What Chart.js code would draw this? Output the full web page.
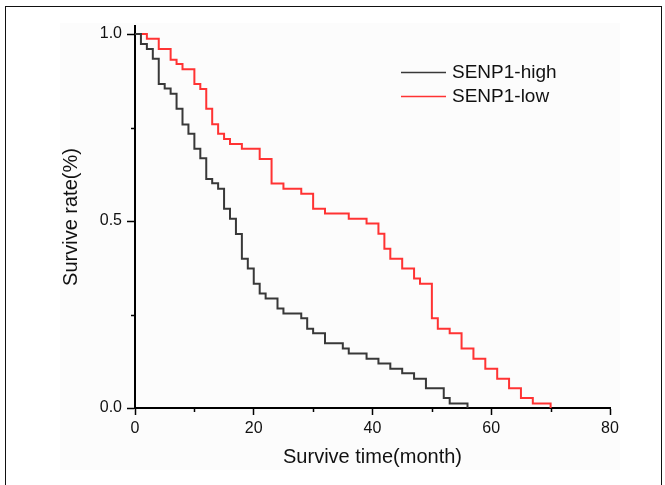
<!DOCTYPE html>
<html>
<head>
<meta charset="utf-8">
<script src="https://cdn.jsdelivr.net/npm/chart.js@4.4.1/dist/chart.umd.min.js"></script>
<style>
  body { margin: 0; background: #fff; }
  #wrap { position: relative; width: 665px; height: 485px; overflow: hidden; }
  #frame {
    position: absolute; left: 5px; top: 6px; width: 655px; height: 600px;
    border: 1.5px solid #111; pointer-events: none;
  }
</style>
</head>
<body>
<div id="wrap">
  <canvas id="kmChart" width="665" height="485"></canvas>
  <div id="frame"></div>
</div>
<script>
// Kaplan-Meier curves (time in months, survival fraction)
const highTime = [0, 1, 2, 3, 4, 5, 6, 7, 8, 9, 10, 11, 12, 13, 14, 15, 16, 17, 18, 19, 20, 21, 22, 24, 25, 28, 29, 30, 32, 35, 36, 39, 41, 43, 45, 47, 49, 52, 53, 56];
const highSurv = [1.0, 0.973, 0.960, 0.934, 0.866, 0.854, 0.840, 0.800, 0.758, 0.733, 0.693, 0.668, 0.612, 0.601, 0.586, 0.533, 0.506, 0.465, 0.399, 0.373, 0.332, 0.306, 0.293, 0.266, 0.253, 0.240, 0.212, 0.200, 0.173, 0.159, 0.146, 0.132, 0.119, 0.105, 0.093, 0.078, 0.053, 0.027, 0.012, 0.0];

const lowTime = [0, 2, 4, 6, 7, 8, 10, 11, 12, 13, 14, 15, 16, 18, 21, 23, 25, 28, 30, 32, 36, 39, 41, 42, 43, 45, 47, 48, 50, 51, 53, 55, 57, 59, 61, 63, 65, 67, 70];
const lowSurv = [1.0, 0.987, 0.960, 0.931, 0.920, 0.906, 0.866, 0.853, 0.800, 0.759, 0.733, 0.719, 0.706, 0.693, 0.666, 0.600, 0.586, 0.573, 0.533, 0.520, 0.506, 0.493, 0.466, 0.426, 0.399, 0.373, 0.346, 0.332, 0.240, 0.212, 0.200, 0.159, 0.132, 0.105, 0.078, 0.053, 0.027, 0.012, 0.0];

const seriesNames = ["SENP1-high", "SENP1-low"];
const xTicks = [0, 20, 40, 60, 80];
const xMinorTicks = [10, 30, 50, 70];
const yTicks = [0.0, 0.5, 1.0];
const yMinorTicks = [0.25, 0.75];

const FONT = "'Liberation Sans', Arial, sans-serif";

const toPoints = (xs, ys) => xs.map((x, i) => ({ x: x, y: ys[i] }));

// light backdrop of the original figure
const backdrop = {
  id: "backdrop",
  beforeDraw(chart) {
    const ctx = chart.ctx;
    ctx.save();
    ctx.fillStyle = "#fcfcfc";
    ctx.fillRect(60, 23, 560, 447);
    ctx.restore();
  }
};

// short unlabeled ticks between the major ones
const minorTicks = {
  id: "minorTicks",
  afterDraw(chart) {
    const ctx = chart.ctx;
    const xs = chart.scales.x, ys = chart.scales.y;
    ctx.save();
    ctx.strokeStyle = "#000";
    ctx.lineWidth = 1.5;
    ctx.beginPath();
    xMinorTicks.forEach((v) => {
      const px = Math.round(xs.getPixelForValue(v)) + 0.5;
      ctx.moveTo(px, xs.top);
      ctx.lineTo(px, xs.top + 4);
    });
    yMinorTicks.forEach((v) => {
      const py = Math.round(ys.getPixelForValue(v)) + 0.5;
      ctx.moveTo(ys.right, py);
      ctx.lineTo(ys.right - 4, py);
    });
    ctx.stroke();
    ctx.restore();
  }
};

// legend drawn inside the plot, top right
const insideLegend = {
  id: "insideLegend",
  afterDraw(chart) {
    const ctx = chart.ctx;
    ctx.save();
    ctx.font = "19px " + FONT;
    ctx.textBaseline = "middle";
    chart.data.datasets.forEach((ds, i) => {
      const y = 72 + i * 24;
      ctx.strokeStyle = ds.borderColor;
      ctx.lineWidth = 1.5;
      ctx.beginPath();
      ctx.moveTo(401, y + 0.5);
      ctx.lineTo(446, y + 0.5);
      ctx.stroke();
      ctx.fillStyle = "#111";
      ctx.fillText(ds.label, 452, y + 1);
    });
    ctx.restore();
  }
};

const ctx = document.getElementById("kmChart").getContext("2d");
new Chart(ctx, {
  type: "line",
  data: {
    datasets: [
      {
        label: seriesNames[0],
        data: toPoints(highTime, highSurv),
        borderColor: "#383838",
        borderWidth: 2,
        pointRadius: 0,
        stepped: "before",
        fill: false
      },
      {
        label: seriesNames[1],
        data: toPoints(lowTime, lowSurv),
        borderColor: "#ff3333",
        borderWidth: 2,
        pointRadius: 0,
        stepped: "before",
        fill: false
      }
    ]
  },
  options: {
    responsive: false,
    animation: false,
    layout: { padding: { left: 0, right: 55, top: 26, bottom: 0 } },
    plugins: {
      legend: { display: false },
      tooltip: { enabled: false }
    },
    scales: {
      x: {
        type: "linear",
        min: 0,
        max: 80,
        afterFit: (scale) => { scale.height = 77; },
        afterBuildTicks: (scale) => { scale.ticks = xTicks.map((v) => ({ value: v })); },
        border: { color: "#000", width: 2 },
        grid: { drawOnChartArea: false, drawTicks: true, tickLength: 7, tickColor: "#000", tickWidth: 1.5 },
        ticks: { color: "#111", font: { family: FONT, size: 16 }, padding: 4, maxRotation: 0 },
        title: {
          display: true,
          text: "Survive time(month)",
          color: "#111",
          font: { family: FONT, size: 20 },
          padding: { top: 16, bottom: 16 }
        }
      },
      y: {
        type: "linear",
        min: 0,
        max: 1.0214,
        afterFit: (scale) => { scale.width = 135; },
        afterBuildTicks: (scale) => { scale.ticks = yTicks.map((v) => ({ value: v })); },
        border: { color: "#000", width: 2 },
        grid: { drawOnChartArea: false, drawTicks: true, tickLength: 8, tickColor: "#000", tickWidth: 1.5 },
        ticks: {
          color: "#111",
          font: { family: FONT, size: 16 },
          padding: 5,
          callback: (v) => Number(v).toFixed(1)
        },
        title: {
          display: true,
          text: "Survive rate(%)",
          color: "#111",
          font: { family: FONT, size: 20 },
          padding: { top: 59, bottom: 59 }
        }
      }
    }
  },
  plugins: [backdrop, minorTicks, insideLegend]
});
</script>
</body>
</html>
